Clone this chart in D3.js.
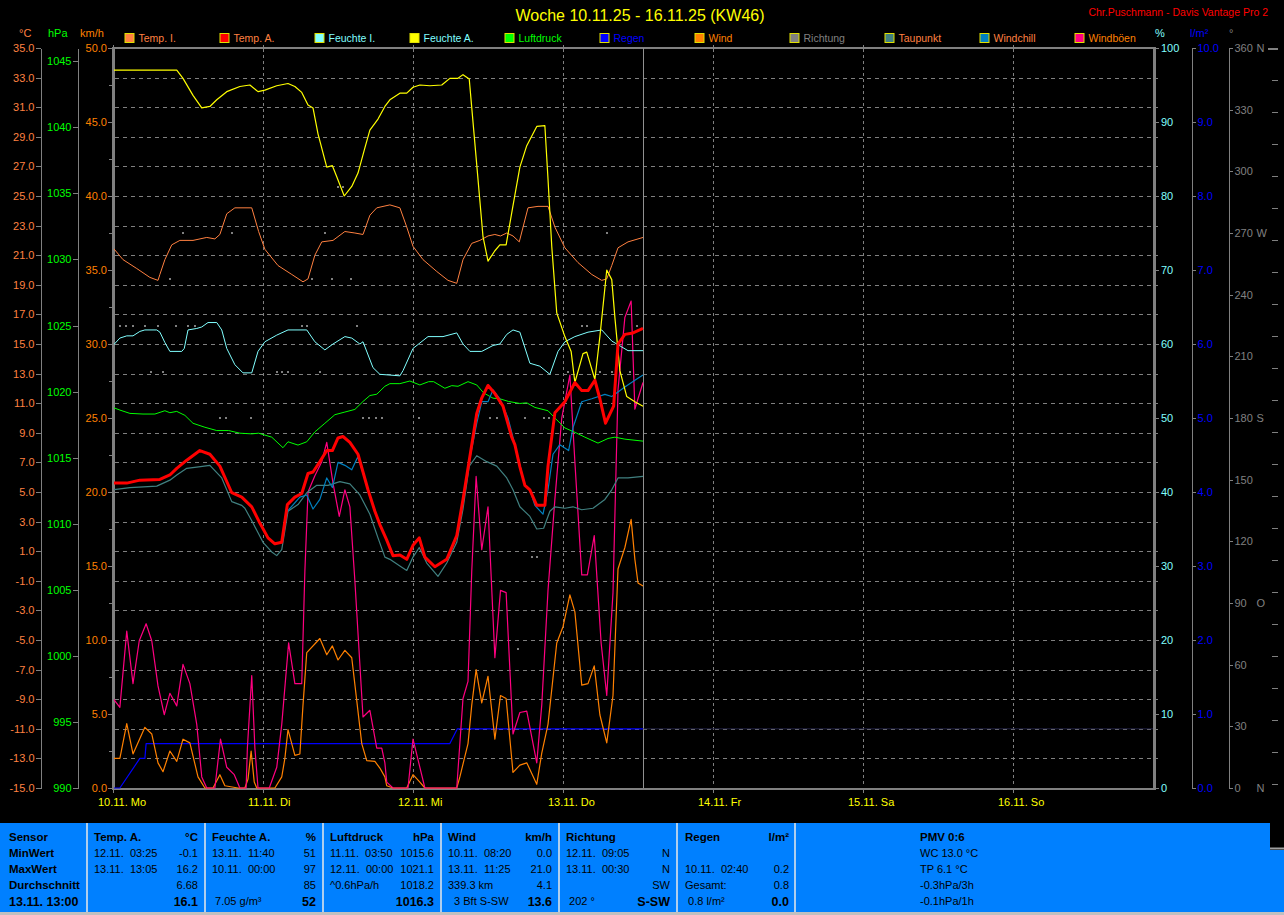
<!DOCTYPE html>
<html><head><meta charset="utf-8">
<script src="https://cdn.jsdelivr.net/npm/d3@7"></script>
<style>
body{margin:0;background:#000;}
svg{display:block;font-family:"Liberation Sans",Arial,sans-serif;}
text{white-space:pre;}
</style></head><body>
<svg id="c" width="1284" height="915"></svg>
<script>
// ---------- DATA (hours since 10.11. 00:00, value) ----------
const titleText = "Woche 10.11.25 - 16.11.25 (KW46)";
const creditText = "Chr.Puschmann - Davis Vantage Pro 2";
const dayLabels = ["10.11. Mo","11.11. Di","12.11. Mi","13.11. Do","14.11. Fr","15.11. Sa","16.11. So"];
const legendNames = ["Temp. I.","Temp. A.","Feuchte I.","Feuchte A.","Luftdruck","Regen","Wind","Richtung","Taupunkt","Windchill","Windböen"];
const nowHour = 84.85;

const tempIn = [[0,21.5],[1.6,20.7],[3.8,20.1],[5.9,19.5],[7.2,19.3],[7.5,19.7],[8.3,20.7],[9.4,21.7],[10.7,22.0],[12.8,22.0],[15.0,22.2],[16.3,22.1],[17.1,22.4],[18.2,23.8],[19.5,24.2],[22.2,24.2],[23.3,22.6],[24.3,21.4],[26.4,20.3],[28.6,19.7],[30.4,19.2],[31.2,19.4],[32.3,21.0],[33.4,21.9],[35.2,22.0],[37.1,22.6],[38.7,22.5],[40.0,22.4],[41.1,23.7],[42.2,24.2],[44.3,24.4],[45.9,24.2],[47.0,22.9],[48.0,21.6],[49.6,20.7],[51.8,19.9],[53.6,19.3],[55.0,19.1],[56.0,20.7],[57.4,21.8],[58.7,22.0],[60.0,22.3],[61.1,22.4],[62.0,22.3],[63.0,22.5],[64.0,22.3],[65.0,21.9],[66.4,24.2],[68.0,24.3],[69.6,24.3],[70.7,22.9],[72.3,21.5],[74.4,20.5],[76.6,19.7],[78.2,19.3],[79.0,19.4],[79.8,20.3],[80.8,21.5],[82.4,21.9],[84.8,22.2]];

const tempOut = [[0,5.6],[2.2,5.6],[4.3,5.8],[7.5,5.85],[9.1,6.15],[10.2,6.6],[11.8,7.15],[13.9,7.8],[15.5,7.55],[17.1,6.75],[19.0,4.95],[20.6,4.65],[22.2,4.0],[23.5,2.9],[24.8,1.9],[25.9,1.5],[27.0,1.6],[27.9,4.15],[29.1,4.65],[30.2,4.9],[31.2,6.25],[32.0,6.35],[33.1,7.05],[34.2,7.8],[35.1,7.8],[36.0,8.65],[36.8,8.75],[37.9,8.35],[39.2,7.55],[40.8,5.15],[41.9,3.7],[42.7,2.8],[43.8,1.75],[44.8,0.7],[45.9,0.75],[47.0,0.45],[48.0,1.4],[49.0,1.9],[49.9,0.6],[51.5,-0.05],[53.4,0.45],[55.0,2.05],[56.0,4.5],[57.1,7.4],[58.2,10.3],[59.0,11.35],[60.0,12.2],[61.1,11.65],[62.4,10.8],[63.8,8.7],[64.3,8.2],[65.1,6.7],[65.9,5.45],[66.7,5.15],[67.8,4.1],[69.1,4.1],[69.6,6.75],[70.7,10.35],[72.3,11.1],[73.9,12.4],[75.0,11.85],[76.0,11.85],[77.1,12.55],[77.9,11.3],[78.8,9.65],[80.1,10.8],[80.8,15.0],[81.9,15.65],[83.2,15.75],[84.8,16.05]];

const humIn = [[0,59.8],[1.1,60.8],[2.2,61.1],[3.2,61.1],[4.3,61.7],[5.1,61.9],[7.0,61.9],[7.5,61.6],[8.3,60.2],[9.1,59.0],[11.0,59.0],[11.4,59.4],[12.0,61.9],[13.4,62.1],[14.2,62.3],[15.2,62.9],[16.6,62.9],[17.4,61.9],[18.2,59.4],[19.5,57.2],[20.8,56.1],[22.2,56.1],[23.2,59.0],[24.3,60.3],[26.2,61.2],[28.0,61.9],[31.0,61.9],[32.3,60.3],[33.9,59.2],[35.2,60.0],[37.1,61.0],[38.2,60.8],[39.5,60.0],[40.0,60.3],[41.6,56.8],[42.7,55.9],[45.9,55.7],[46.4,56.4],[48.0,59.4],[50.4,61.0],[52.8,61.0],[55.0,61.5],[56.0,60.0],[57.1,59.0],[59.0,59.0],[60.8,59.8],[61.9,60.0],[63.0,61.3],[64.0,61.9],[65.1,61.6],[66.7,57.4],[68.3,57.0],[69.9,55.9],[71.2,59.0],[72.3,60.3],[73.9,61.0],[76.0,61.6],[78.2,61.9],[79.8,60.4],[82.4,59.1],[84.8,59.1]];

const humOut = [[0,97],[10.2,97],[11.2,95.9],[12.8,93.6],[14.2,91.9],[15.5,92.1],[16.6,93.0],[18.2,94.1],[20.3,94.8],[21.9,95.0],[23.2,94.1],[24.3,94.3],[26.2,94.9],[28.0,95.2],[29.1,94.8],[30.2,94.0],[31.2,92.3],[32.0,91.9],[32.8,88.4],[34.2,83.9],[35.1,84.1],[35.8,82.6],[37.0,80.0],[38.2,81.3],[39.2,83.1],[40.3,86.5],[41.1,88.9],[42.4,90.4],[43.5,92.1],[44.3,93.0],[45.9,93.9],[47.0,93.9],[48.0,94.7],[49.1,95.0],[50.7,94.9],[52.6,95.0],[53.9,95.9],[55.2,95.9],[56.0,96.4],[57.0,95.8],[58.2,84.2],[59.2,74.5],[60.0,71.2],[61.1,72.6],[61.9,73.4],[62.9,73.4],[64.0,78.7],[65.1,83.9],[66.2,86.8],[67.8,89.4],[69.1,89.5],[69.6,82.3],[70.2,73.2],[71.0,64.2],[72.3,61.0],[73.3,59.0],[73.9,54.8],[75.2,58.7],[75.8,58.9],[77.1,55.2],[77.9,61.0],[79.0,70.0],[79.8,68.7],[80.3,63.6],[81.1,56.4],[82.2,52.9],[83.5,52.2],[84.8,51.6]];

const pressure = [[0,1018.8],[1.1,1018.6],[2.7,1018.35],[4.8,1018.3],[6.7,1018.3],[8.3,1018.55],[9.1,1018.4],[10.2,1018.5],[11.5,1018.2],[12.8,1017.6],[14.7,1017.3],[16.6,1017.05],[18.5,1017.05],[20.3,1016.85],[22.2,1016.8],[23.3,1016.85],[25.4,1016.55],[27.2,1015.75],[28.0,1016.2],[29.6,1015.95],[31.0,1016.2],[32.3,1016.95],[33.9,1017.6],[35.5,1018.25],[37.1,1018.45],[38.7,1018.65],[40.0,1019.25],[41.1,1019.7],[42.2,1019.8],[43.5,1020.4],[44.3,1020.6],[45.9,1020.6],[47.5,1020.8],[49.1,1020.5],[50.5,1020.75],[51.3,1020.75],[53.1,1020.25],[54.2,1020.45],[55.2,1020.4],[56.8,1020.75],[58.2,1020.5],[59.3,1019.9],[60.8,1019.5],[61.9,1019.45],[63.3,1019.25],[65.1,1019.1],[66.2,1019.15],[67.5,1018.8],[69.6,1018.55],[70.7,1018.0],[72.3,1017.25],[74.2,1016.85],[75.5,1016.55],[77.6,1016.1],[79.2,1016.45],[80.3,1016.55],[81.9,1016.4],[84.8,1016.25]];

const rain = [[0,0],[1.1,0],[4.3,0.4],[5.1,0.4],[5.3,0.6],[53.9,0.6],[55.1,0.8],[84.8,0.8]];

const wind = [[0,2.0],[1.1,2.0],[2.2,4.35],[3.2,2.3],[5.1,4.1],[6.2,3.65],[7.2,1.7],[8.0,1.1],[9.1,2.5],[10.2,1.8],[11.2,3.3],[12.3,3.05],[13.6,0.75],[14.7,0],[16.0,0],[17.1,0.9],[17.9,0.15],[20.0,0],[21.1,0],[21.6,0.6],[22.1,2.5],[22.6,0.4],[23.0,0],[25.9,0],[27.0,0.75],[27.5,2.0],[28.0,3.95],[29.1,2.2],[29.9,2.3],[30.4,5.6],[31.0,9.15],[33.1,10.1],[34.2,9.0],[35.1,9.6],[36.0,8.65],[37.1,9.3],[38.2,8.8],[39.0,5.9],[39.8,3.0],[40.6,1.85],[41.9,1.8],[42.7,1.35],[43.5,0.75],[43.8,0.15],[44.8,0],[47.0,0],[48.0,0.9],[49.1,0.4],[49.9,0],[55.0,0],[55.5,0.75],[56.8,3.0],[57.4,5.6],[58.1,8.0],[59.0,5.75],[60.0,7.55],[61.1,3.3],[62.0,6.25],[62.9,6.05],[64.0,1.05],[65.1,1.55],[66.2,1.7],[67.8,0.25],[68.6,2.35],[69.6,4.3],[71.0,9.8],[72.0,10.9],[73.1,13.05],[73.9,11.9],[75.0,6.95],[76.0,7.05],[77.0,8.25],[77.9,4.95],[79.0,3.05],[80.0,6.25],[80.8,14.8],[81.9,16.25],[82.9,18.15],[83.5,15.45],[84.0,13.85],[84.8,13.65]];

const gust = [[0,6.05],[1.1,5.45],[2.2,10.6],[3.2,7.05],[4.2,9.95],[5.3,11.1],[6.2,9.95],[7.2,6.9],[8.2,4.95],[9.1,6.4],[10.2,5.55],[11.2,8.35],[12.3,7.05],[13.4,4.3],[14.2,0.75],[15.0,0],[16.3,0],[17.2,3.3],[18.2,1.4],[19.4,0.9],[20.3,0],[21.3,0],[21.5,2.7],[22.2,7.6],[22.7,2.7],[23.2,0],[25.0,0],[26.2,1.4],[27.0,4.3],[28.1,9.8],[29.1,7.05],[30.2,7.05],[30.7,14.65],[31.2,20.0],[32.3,21.1],[33.4,22.05],[34.2,23.35],[35.2,20.6],[36.2,18.35],[37.1,20.15],[37.9,19.0],[38.7,14.0],[40.0,4.8],[41.1,5.25],[42.2,2.7],[43.0,2.7],[43.5,1.7],[43.8,0.4],[44.8,0],[47.2,0],[48.0,3.3],[49.1,1.4],[49.9,0],[55.0,0],[56.0,6.05],[56.8,7.2],[57.4,14.65],[58.1,21.05],[59.0,16.1],[60.0,19.0],[61.1,8.8],[62.0,13.35],[62.9,13.2],[64.0,3.65],[65.1,5.1],[66.2,5.2],[67.8,1.7],[68.6,5.6],[69.6,13.35],[70.7,19.5],[71.8,25.0],[73.1,27.9],[73.9,22.05],[75.0,14.4],[75.9,14.4],[77.0,17.05],[78.1,9.8],[79.0,6.25],[80.0,13.2],[80.8,26.9],[81.9,31.8],[82.9,32.9],[83.5,25.6],[84.0,26.3],[84.8,27.4]];

const dewPoint = [[0,5.15],[2.7,5.3],[7.0,5.4],[9.1,5.8],[10.2,6.15],[11.8,6.6],[13.7,6.7],[15.5,6.8],[17.4,5.95],[19.0,4.35],[20.6,4.1],[21.1,3.9],[22.4,2.9],[24.0,1.6],[25.4,0.95],[26.2,0.7],[27.0,1.1],[28.0,3.7],[29.6,4.15],[31.0,4.95],[32.6,5.45],[34.4,5.45],[36.3,5.7],[37.9,5.55],[39.5,4.8],[41.1,3.5],[42.4,1.9],[43.5,0.6],[44.3,0.45],[45.9,0.0],[47.0,-0.3],[48.0,0.6],[49.0,1.25],[50.2,0.2],[52.0,-0.7],[53.4,0.2],[55.0,1.6],[56.0,3.85],[57.0,6.75],[58.2,7.45],[59.8,7.05],[61.4,6.75],[63.0,5.95],[64.0,5.15],[65.1,4.0],[66.7,3.35],[67.8,2.5],[68.9,2.55],[69.9,3.7],[70.7,4.0],[72.3,3.9],[73.6,4.0],[75.0,3.8],[76.8,3.9],[78.7,4.5],[79.8,5.15],[80.8,5.95],[82.4,5.95],[84.8,6.05]];

const windChill = [[0,5.6],[2.2,5.6],[4.3,5.8],[7.5,5.85],[9.1,6.15],[10.2,6.6],[11.8,7.15],[13.9,7.8],[15.5,7.55],[17.1,6.75],[19.0,4.95],[20.6,4.65],[22.2,4.0],[23.5,2.9],[24.8,1.9],[25.9,1.5],[27.0,1.6],[27.9,3.7],[29.9,4.65],[31.0,4.8],[32.0,3.85],[33.1,4.5],[34.2,5.95],[35.1,5.3],[36.0,7.0],[37.1,6.8],[38.2,6.5],[39.2,7.4],[40.8,5.15],[41.9,3.7],[42.7,2.8],[43.8,1.75],[44.8,0.7],[45.9,0.75],[47.0,0.45],[48.0,1.4],[49.0,1.9],[49.9,0.6],[51.5,-0.05],[53.4,0.45],[55.0,2.05],[56.0,4.5],[57.0,7.05],[58.2,9.65],[59.0,11.1],[60.0,11.1],[60.8,11.9],[61.9,11.3],[63.2,10.0],[64.6,7.7],[65.9,5.45],[66.7,5.15],[67.5,4.1],[68.8,3.5],[69.6,5.15],[70.4,7.55],[71.5,8.2],[72.9,7.8],[73.6,9.35],[75.0,11.1],[76.6,11.3],[78.7,11.6],[79.8,11.45],[81.9,12.1],[83.5,12.55],[84.8,12.9]];

const dirHours = [1.1,2.1,3.2,5.1,7.2,10.0,12.0,13.1,6.0,8.0,11.2,19.0,9.1,17.1,18.1,36.0,36.8,33.9,31.8,35.0,38.1,30.2,31.0,39.0,26.2,27.0,28.0,33.1,22.1,40.0,41.0,42.0,43.0,49.0,60.3,61.4,64.8,79.0,75.0,75.8,83.8,72.8,77.9,79.8,82.7,65.9,68.9,69.7,67.0,67.8];
const dirDeg   = [225,225,225,225,225,225,225,225,202.5,202.5,270,270,247.5,180,180,292.5,292.5,270,247.5,247.5,247.5,225,225,225,202.5,202.5,202.5,202.5,180,180,180,180,180,180,180,180,67.5,270,225,225,225,202.5,202.5,202.5,202.5,180,180,180,112.5,112.5];

// Table texts
const tblRowLabels = ["Sensor","MinWert","MaxWert","Durchschnitt","13.11. 13:00"];
const tblHeads = ["Temp. A.","Feuchte A.","Luftdruck","Wind","Richtung","Regen"];
const tblUnits = ["°C","%","hPa","km/h","","l/m²"];
const tblLeft = [
  ["12.11.  03:25","13.11.  13:05","",""],
  ["13.11.  11:40","10.11.  00:00",""," 7.05 g/m³"],
  ["11.11.  03:50","12.11.  00:00","^0.6hPa/h",""],
  ["10.11.  08:20","13.11.  11:25","339.3 km","  3 Bft S-SW"],
  ["12.11.  09:05","13.11.  00:30",""," 202 °"],
  ["","10.11.  02:40","Gesamt:"," 0.8 l/m²"]];
const tblRight = [
  ["-0.1","16.2","6.68","16.1"],
  ["51","97","85","52"],
  ["1015.6","1021.1","1018.2","1016.3"],
  ["0.0","21.0","4.1","13.6"],
  ["N","N","SW","S-SW"],
  ["","0.2","0.8","0.0"]];
const pmvLines = ["PMV 0:6","WC 13.0 °C","TP 6.1 °C","-0.3hPa/3h","-0.1hPa/1h"];

// ---------- LAYOUT ----------
const svg = d3.select("#c");
const L = 113, R = 1154, T = 48, B = 788;
const GRAY = "#808080";
const x = d3.scaleLinear().domain([0,168]).range([113,1163]);
const yC = d3.scaleLinear().domain([-15,35]).range([B,T]);
const yP = d3.scaleLinear().domain([990,1046]).range([B,T]);
const yK = d3.scaleLinear().domain([0,50]).range([B,T]);
const yH = d3.scaleLinear().domain([0,100]).range([B,T]);
const yR = d3.scaleLinear().domain([0,10]).range([B,T]);
const yD = d3.scaleLinear().domain([0,360]).range([B,T]);
const px = v => Math.round(v) + 0.5;

svg.append("rect").attr("width",1284).attr("height",915).attr("fill","#000");

// Title & credit
svg.append("text").attr("x",640).attr("y",21).attr("text-anchor","middle")
  .attr("fill","#ffff00").attr("font-size",16).text(titleText);
svg.append("text").attr("x",1268).attr("y",16).attr("text-anchor","end")
  .attr("fill","#ff0000").attr("font-size",10.5).text(creditText);

// Legend
const legendFill = ["#ff8040","#ff0000","#80ffff","#ffff00","#00ff00","#0000ff","#ff8000","#808080","#408080","#0080c0","#ff0080"];
const legendText = ["#ff8040","#ff8040","#80ffff","#80ffff","#00ff00","#0000ff","#ff8000","#808080","#ff8040","#ff8040","#ff8000"];
legendNames.forEach((n,i)=>{
  const lx = 124.5 + i*95;
  svg.append("rect").attr("x",lx+0.5).attr("y",33.5).attr("width",9).attr("height",9)
    .attr("fill",legendFill[i]).attr("stroke","#e0e000").attr("stroke-width",1);
  svg.append("text").attr("x",lx+14).attr("y",42).attr("fill",legendText[i])
    .attr("font-size",10.5).text(n);
});

// Unit titles
[["°C",19,"#ff8040"],["hPa",48,"#00ff00"],["km/h",80,"#ff8000"],["%",1155,"#80ffff"],["l/m²",1190,"#0000ff"],["°",1229,GRAY]]
  .forEach(u=> svg.append("text").attr("x",u[1]).attr("y",37).attr("fill",u[2]).attr("font-size",11).text(u[0]));

// Grid
const grid = svg.append("g").attr("shape-rendering","crispEdges");
d3.range(-13,35,2).forEach(v=>{
  grid.append("line").attr("x1",L+2).attr("x2",R-1).attr("y1",px(yC(v))).attr("y2",px(yC(v)))
    .attr("stroke",GRAY).attr("stroke-dasharray","4,4");
});
d3.range(1,7).forEach(d=>{
  grid.append("line").attr("x1",px(x(d*24))).attr("x2",px(x(d*24))).attr("y1",T+1).attr("y2",B-1)
    .attr("stroke",GRAY).attr("stroke-dasharray","3,3");
});

// Axes helper
function styleAxis(g, color, fs){
  g.selectAll(".domain").attr("stroke",GRAY);
  g.selectAll(".tick line").attr("stroke",GRAY);
  g.selectAll(".tick text").attr("fill",color).attr("font-size",fs||11).attr("font-family",null);
  g.attr("shape-rendering","crispEdges");
}
const aC = svg.append("g").attr("transform","translate(40.5,0)")
  .call(d3.axisLeft(yC).tickValues(d3.range(-15,36,2)).tickFormat(d=>d.toFixed(1)).tickSize(5).tickSizeOuter(0).tickPadding(1));
styleAxis(aC,"#ff8040");
const aP = svg.append("g").attr("transform","translate(77.5,0)")
  .call(d3.axisLeft(yP).tickValues(d3.range(990,1046,5)).tickFormat(d=>d).tickSize(5).tickSizeOuter(0).tickPadding(1));
styleAxis(aP,"#00ff00");
const aK = svg.append("g").attr("transform","translate(112,0)")
  .call(d3.axisLeft(yK).tickValues(d3.range(0,51,5)).tickFormat(d=>d.toFixed(1)).tickSize(4).tickSizeOuter(0).tickPadding(1));
styleAxis(aK,"#ff8000");
const aKm = svg.append("g").attr("transform","translate(112,0)")
  .call(d3.axisLeft(yK).tickValues(d3.range(2.5,50,5)).tickFormat("").tickSize(3).tickSizeOuter(0));
styleAxis(aKm,"#ff8000");
const aH = svg.append("g").attr("transform","translate(1155,0)")
  .call(d3.axisRight(yH).tickValues(d3.range(0,101,10)).tickFormat(d=>d).tickSize(4).tickSizeOuter(0).tickPadding(2));
styleAxis(aH,"#80ffff");
const aHm = svg.append("g").attr("transform","translate(1155,0)")
  .call(d3.axisRight(yH).tickValues(d3.range(0,101,4)).tickFormat("").tickSize(3).tickSizeOuter(0));
styleAxis(aHm,"#80ffff");
const aR = svg.append("g").attr("transform","translate(1191.5,0)")
  .call(d3.axisRight(yR).tickValues(d3.range(0,11,1)).tickFormat(d=>d.toFixed(1)).tickSize(4).tickSizeOuter(0).tickPadding(2));
styleAxis(aR,"#0000ff");
const compass = {0:"N",90:"O",180:"S",270:"W",360:"N"};
const aD = svg.append("g").attr("transform","translate(1228.5,0)")
  .call(d3.axisRight(yD).tickValues(d3.range(0,361,30)).tickFormat(d=>d).tickSize(4).tickSizeOuter(0).tickPadding(2));
styleAxis(aD,GRAY);
aD.selectAll(".tick").each(function(d){
  if(compass[d]!==undefined) d3.select(this).append("text").attr("x",28).attr("dy","0.32em")
    .attr("fill",GRAY).attr("font-size",11).text(compass[d]);
});

// far right small dashes
d3.range(0,24).forEach(k=>{
  svg.append("line").attr("x1",k===0?1268:1272).attr("x2",1278).attr("y1",px(48+32*k)).attr("y2",px(48+32*k))
    .attr("stroke",GRAY).attr("stroke-width",k===0?2:1).attr("shape-rendering","crispEdges");
});

// Plot border
const bord = svg.append("g").attr("shape-rendering","crispEdges").attr("stroke",GRAY);
bord.append("line").attr("x1",L-1).attr("x2",R+1).attr("y1",T).attr("y2",T).attr("stroke-width",2);
bord.append("line").attr("x1",L-1).attr("x2",R+1).attr("y1",B+1).attr("y2",B+1).attr("stroke-width",2);
bord.append("line").attr("x1",L).attr("x2",L).attr("y1",T-1).attr("y2",B+2).attr("stroke-width",3);
bord.append("line").attr("x1",R).attr("x2",R).attr("y1",T-1).attr("y2",B+2).attr("stroke-width",3);
d3.range(0,7).forEach(d=>{
  bord.append("line").attr("x1",px(x(d*24))).attr("x2",px(x(d*24))).attr("y1",B).attr("y2",B+5);
  bord.append("line").attr("x1",px(x(d*24))).attr("x2",px(x(d*24))).attr("y1",T-3).attr("y2",T);
});
dayLabels.forEach((s,d)=>{
  svg.append("text").attr("x",x(d*24)-15).attr("y",806).attr("fill","#ffff00").attr("font-size",11).text(s);
});

// now line
svg.append("line").attr("x1",px(x(nowHour))).attr("x2",px(x(nowHour))).attr("y1",T).attr("y2",B)
  .attr("stroke","#909090").attr("stroke-width",1.5).attr("shape-rendering","crispEdges");

// Series
svg.append("defs").append("clipPath").attr("id","clip").append("rect")
  .attr("x",L+1).attr("y",T).attr("width",R-L-2).attr("height",B-T+1);
const plot = svg.append("g").attr("clip-path","url(#clip)");
function drawLine(data, yS, color, w){
  plot.append("path").datum(data).attr("fill","none").attr("stroke",color).attr("stroke-width",w||1)
    .attr("stroke-linejoin","round")
    .attr("d", d3.line().x(d=>x(d[0])).y(d=>yS(d[1])));
}
// rain continuation after now
drawLine([[nowHour,rain[rain.length-1][1]],[168,rain[rain.length-1][1]]], yR, "#202040", 1);
drawLine(rain, yR, "#0000ff", 1.2);
dirHours.forEach((h,i)=>{
  plot.append("rect").attr("x",Math.round(x(h))-1).attr("y",Math.round(yD(dirDeg[i]))-1)
    .attr("width",2).attr("height",2).attr("fill","#808080");
});
drawLine(wind, yK, "#ff8000", 1.2);
drawLine(gust, yK, "#ff0080", 1.2);
drawLine(pressure, yP, "#00ff00", 1);
drawLine(humIn, yH, "#80ffff", 1);
drawLine(tempIn, yC, "#ff8040", 1);
drawLine(dewPoint, yC, "#408080", 1.2);
drawLine(windChill, yC, "#0080c0", 1.2);
drawLine(humOut, yH, "#ffff00", 1.2);
drawLine(tempOut, yC, "#ff0000", 3);

// ---------- TABLE ----------
const tb = svg.append("g");
tb.append("rect").attr("x",0).attr("y",823).attr("width",1270).attr("height",90).attr("fill","#0080ff");
tb.append("rect").attr("x",1270).attr("y",850).attr("width",14).attr("height",63).attr("fill","#0080ff");
tb.append("line").attr("x1",1270).attr("x2",1284).attr("y1",848.5).attr("y2",848.5).attr("stroke","#a0a0a0").attr("stroke-width",2);
tb.append("rect").attr("x",0).attr("y",912).attr("width",1284).attr("height",3).attr("fill","#c0c0c0");
[87,205,323,441,559,677,795].forEach(sx=>{
  tb.append("line").attr("x1",sx).attr("x2",sx).attr("y1",823).attr("y2",912)
    .attr("stroke","#e8e8e8").attr("stroke-width",1.5);
});
const rowBase = [841,857,873,889,905];
tblRowLabels.forEach((s,i)=>{
  tb.append("text").attr("x",9).attr("y",rowBase[i]+(i===4?1:0)).attr("fill","#000").attr("font-weight","bold")
    .attr("font-size",i===4?12.5:11.5).text(s);
});
const colLeft = [94,212,330,448,566,685];
const colRight = [198,316,434,552,670,789];
tblHeads.forEach((h,c)=>{
  tb.append("text").attr("x",colLeft[c]).attr("y",rowBase[0]).attr("font-weight","bold").attr("font-size",11.5).attr("fill","#000").text(h);
  tb.append("text").attr("x",colRight[c]).attr("y",rowBase[0]).attr("text-anchor","end").attr("font-weight","bold").attr("font-size",11.5).attr("fill","#000").text(tblUnits[c]);
  tblLeft[c].forEach((s,r)=>{
    tb.append("text").attr("x",colLeft[c]).attr("y",rowBase[r+1]).attr("font-size",11).attr("fill","#000").text(s);
  });
  tblRight[c].forEach((s,r)=>{
    tb.append("text").attr("x",colRight[c]).attr("y",rowBase[r+1]+(r===3?1:0)).attr("text-anchor","end")
      .attr("font-size",r===3?12.5:11).attr("font-weight",r===3?"bold":"normal").attr("fill","#000").text(s);
  });
});
pmvLines.forEach((s,i)=>{
  tb.append("text").attr("x",920).attr("y",rowBase[i]).attr("font-size",i===0?11.5:11)
    .attr("font-weight",i===0?"bold":"normal").attr("fill","#000").text(s);
});
</script>
</body></html>
